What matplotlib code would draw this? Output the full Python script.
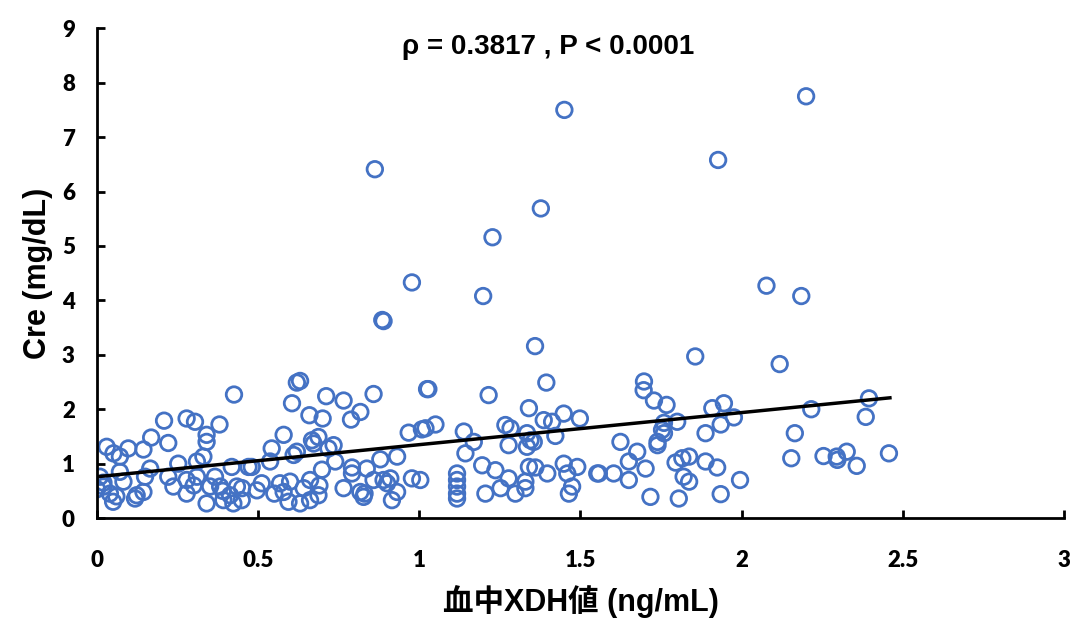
import numpy as np
import matplotlib
matplotlib.use("Agg")
import matplotlib.pyplot as plt

plt.rcParams['font.family'] = ['Liberation Sans', 'Noto Sans CJK JP', 'DejaVu Sans']

# XDH (ng/mL) vs Cre (mg/dL)
xdh = [
    # high values
    1.45, 2.20, 1.927, 0.862, 1.377, 1.227, 0.977, 1.198, 2.077, 2.185,
    0.889, 0.885, 1.359, 1.856, 2.118, 1.394, 1.028, 0.63,
    # x < 0.5
    0.425, 0.208, 0.278, 0.304, 0.38, 0.168, 0.221, 0.34, 0.34, 0.030,
    0.051, 0.071, 0.097, 0.144, 0.33, 0.31, 0.252, 0.165, 0.071, 0.009,
    0.0, 0.02, 0.04, 0.05, 0.082, 0.123, 0.144, 0.118, 0.149, 0.221,
    0.237, 0.278, 0.278, 0.31, 0.34, 0.351, 0.382, 0.413, 0.434, 0.392,
    0.423, 0.449, 0.47, 0.418, 0.366, 0.02, 0.06, 0.45, 0.39, 0.3,
    # 0.5 - 1.0
    0.62, 0.605, 0.711, 0.765, 0.858, 0.659, 0.70, 0.788, 0.817, 1.024,
    0.967, 1.008, 0.579, 0.542, 0.61, 0.62, 0.667, 0.687, 0.672, 0.734,
    0.718, 0.48, 0.537, 0.739, 0.698, 0.791, 0.791, 0.837, 0.879, 0.931,
    0.511, 0.496, 0.568, 0.599, 0.661, 0.579, 0.594, 0.63, 0.661, 0.687,
    0.641, 0.765, 0.817, 0.827, 0.858, 0.889, 0.910, 0.90, 0.931, 0.915,
    0.977, 0.83, 0.55, 0.69,
    # 1.0 - 1.55
    1.215, 1.34, 1.448, 1.498, 1.386, 1.412, 1.019, 1.05, 1.138, 1.267,
    1.283, 1.169, 1.334, 1.345, 1.355, 1.334, 1.422, 1.277, 1.143, 1.003,
    1.195, 1.236, 1.117, 1.117, 1.117, 1.117, 1.117, 1.205, 1.252, 1.277,
    1.298, 1.329, 1.329, 1.34, 1.36, 1.397, 1.448, 1.459, 1.49, 1.474,
    1.464, 1.552, 1.696,
    # 1.55 - 2.0
    1.697, 1.728, 1.767, 1.909, 1.945, 1.976, 1.935, 1.888, 1.80, 1.759,
    1.753, 1.759, 1.739, 1.739, 1.624, 1.676, 1.65, 1.702, 1.557, 1.603,
    1.65, 1.717, 1.795, 1.816, 1.837, 1.82, 1.837, 1.805, 1.888, 1.924,
    1.935, 1.995,
    # > 2.0
    2.395, 2.385, 2.216, 2.165, 2.154, 2.254, 2.297, 2.326, 2.295, 2.357,
    2.457,
]
cre = [
    7.50, 7.75, 6.58, 6.41, 5.69, 5.16, 4.33, 4.08, 4.27, 4.08,
    3.62, 3.64, 3.16, 2.97, 2.83, 2.49, 2.37, 2.52,
    2.27, 1.79, 1.83, 1.77, 1.72, 1.48, 1.38, 1.53, 1.40, 1.31,
    1.19, 1.13, 1.28, 1.26, 1.13, 1.04, 1.00, 0.91, 0.85, 0.76,
    0.53, 0.58, 0.45, 0.30, 0.67, 0.42, 0.48, 0.36, 0.76, 0.76,
    0.58, 0.45, 0.70, 0.76, 0.27, 0.58, 0.58, 0.42, 0.58, 0.33,
    0.27, 0.33, 0.94, 0.94, 0.76, 0.65, 0.40, 0.55, 0.50, 0.60,
    2.49, 2.11, 2.24, 2.16, 2.28, 1.89, 1.83, 1.81, 1.95, 2.37,
    1.57, 1.63, 1.53, 1.28, 1.16, 1.22, 1.43, 1.49, 1.37, 1.34,
    1.28, 0.94, 1.04, 1.04, 0.89, 0.93, 0.82, 0.91, 1.08, 1.13,
    0.64, 0.51, 0.64, 0.67, 0.70, 0.48, 0.30, 0.27, 0.33, 0.42,
    0.55, 0.55, 0.48, 0.39, 0.70, 0.70, 0.73, 0.64, 0.48, 0.33,
    0.73, 0.45, 0.45, 0.60,
    2.26, 2.02, 1.92, 1.83, 1.80, 1.77, 1.65, 1.72, 1.59, 1.71,
    1.65, 1.40, 1.56, 1.43, 1.40, 1.31, 1.51, 1.34, 1.19, 0.70,
    0.97, 0.88, 0.82, 0.70, 0.58, 0.45, 0.36, 0.45, 0.55, 0.73,
    0.45, 0.55, 0.67, 0.94, 0.93, 0.82, 1.00, 0.82, 0.94, 0.58,
    0.45, 0.82, 2.35,
    2.51, 2.16, 2.08, 2.02, 2.11, 1.85, 1.72, 1.56, 1.77, 1.75,
    1.62, 1.56, 1.40, 1.34, 1.40, 1.22, 1.04, 0.91, 0.82, 0.82,
    0.70, 0.39, 1.02, 1.10, 1.13, 0.76, 0.67, 0.36, 1.04, 0.93,
    0.44, 0.70,
    2.20, 1.86, 2.00, 1.56, 1.10, 1.14, 1.07, 1.22, 1.13, 0.96,
    1.19,
]

# regression line end points
fit_x = [0.0, 2.46]
fit_y = [0.76, 2.21]

x_ticks = [0, 0.5, 1, 1.5, 2, 2.5, 3]
x_tick_labels = ['0', '0.5', '1', '1.5', '2', '2.5', '3']
y_ticks = list(range(0, 10))

fig = plt.figure(figsize=(10.72, 6.28), dpi=100)
ax = fig.add_axes([0.0905, 0.175, 0.902, 0.78])

ax.scatter(xdh, cre, s=125, facecolors='none', edgecolors='#4472C4',
           linewidths=2, zorder=2)
ax.plot(fit_x, fit_y, color='black', linewidth=2.5, zorder=3)

ax.set_xlim(0, 3)
ax.set_ylim(0, 9)
ax.set_xticks(x_ticks)
ax.set_xticklabels(x_tick_labels)
ax.set_yticks(y_ticks)

for side in ['top', 'right']:
    ax.spines[side].set_visible(False)
for side in ['left', 'bottom']:
    ax.spines[side].set_linewidth(2)

ax.tick_params(axis='x', direction='in', length=6, width=2, pad=23)
ax.tick_params(axis='y', direction='in', length=6, width=2, pad=16)
for lab in ax.get_xticklabels() + ax.get_yticklabels():
    lab.set_fontweight('heavy')
    lab.set_fontsize(16)
    lab.set_family(['Lato', 'DejaVu Sans'])

ax.set_xlabel('血中XDH値 (ng/mL)', fontsize=22, fontweight='bold', labelpad=10)
ax.set_ylabel('Cre (mg/dL)', fontsize=22, fontweight='bold', labelpad=6)

ax.text(1.40, 8.65, 'ρ = 0.3817 , P < 0.0001', ha='center', va='center',
        fontsize=20, fontweight='bold')

fig.savefig('out.png', dpi=100)
